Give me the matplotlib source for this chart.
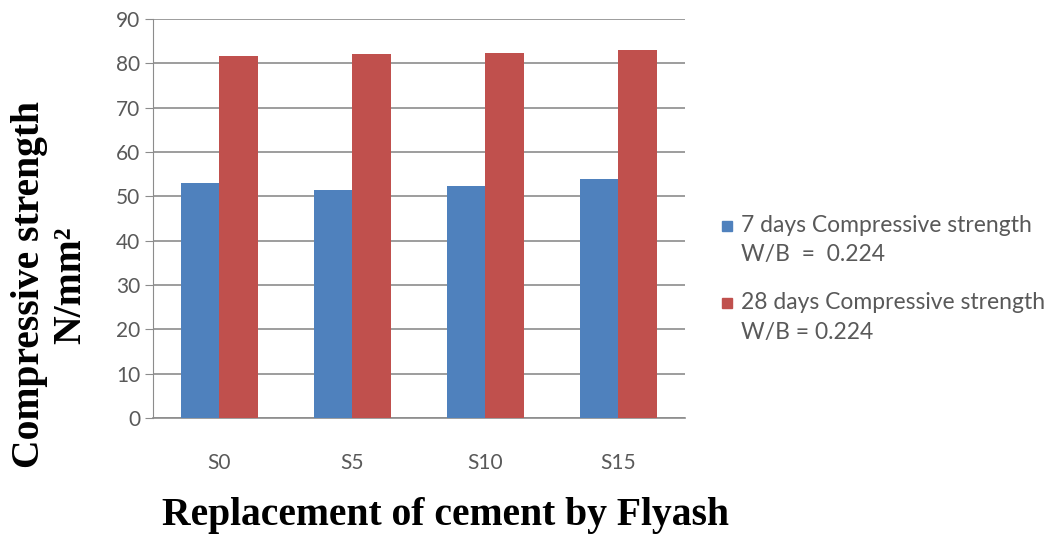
import numpy as np
import matplotlib
matplotlib.use('Agg')
import matplotlib.pyplot as plt
from matplotlib.patches import Rectangle

# Compressive strength of flyash mixes
mixes = ['S0', 'S5', 'S10', 'S15']
strength_7d = [53.0, 51.5, 52.4, 53.8]
strength_28d = [81.7, 82.1, 82.3, 82.9]
labels = ['7 days Compressive strength\nW/B  =  0.224',
          '28 days Compressive strength\nW/B = 0.224']

blue = '#4f81bd'
red = '#c0504d'
grey_text = '#595959'
grid_col = '#8c8c8c'

W, H = 1053, 536
fig = plt.figure(figsize=(W / 100, H / 100), dpi=100)
ax = fig.add_axes([0.1453, 0.2201, 0.5052, 0.7445])

x = np.arange(len(mixes))
w = 0.286
ax.bar(x - w / 2, strength_7d, width=w, color=blue, zorder=3)
ax.bar(x + w / 2, strength_28d, width=w, color=red, zorder=3)

ax.set_xlim(-0.5, len(mixes) - 0.5)
ax.set_ylim(0, 90)
ax.set_yticks(range(0, 91, 10))
ax.set_xticks(x)
ax.set_xticklabels(mixes)

ax.yaxis.grid(True, color=grid_col, linewidth=1.2, zorder=0)
ax.set_axisbelow(True)
for side in ['top', 'right']:
    ax.spines[side].set_visible(False)
ax.spines['left'].set_color(grid_col)
ax.spines['bottom'].set_color(grid_col)
ax.spines['bottom'].set_linewidth(1.2)
ax.tick_params(axis='y', length=6, color=grid_col, labelsize=15,
               labelcolor=grey_text, pad=3)
ax.tick_params(axis='x', length=0, labelsize=15, labelcolor=grey_text, pad=25)
for lab in ax.get_xticklabels() + ax.get_yticklabels():
    lab.set_fontfamily('Lato')

# axis titles
fig.text(50 / W, 1 - 285 / H, 'Compressive strength\nN/mm²', rotation=90,
         ha='center', va='center', multialignment='center', fontsize=28.5,
         fontweight='bold', family='Liberation Serif', linespacing=1.15)
fig.text(445 / W, 1 - 515 / H, 'Replacement of cement by Flyash',
         ha='center', va='center', fontsize=28.5, fontweight='bold',
         family='Liberation Serif')

# legend: square key beside the first line of each entry
key_y = [226, 303]
for col, lab, yy in zip([blue, red], labels, key_y):
    fig.patches.append(Rectangle((722 / W, 1 - (yy + 5) / H), 10 / W, 10 / H,
                                 transform=fig.transFigure, color=col))
    fig.text(741 / W, 1 - (yy - 11) / H, lab, ha='left', va='top',
             fontsize=16.5, family='Lato', color=grey_text, linespacing=1.5)

fig.savefig('out.png', dpi=100)
